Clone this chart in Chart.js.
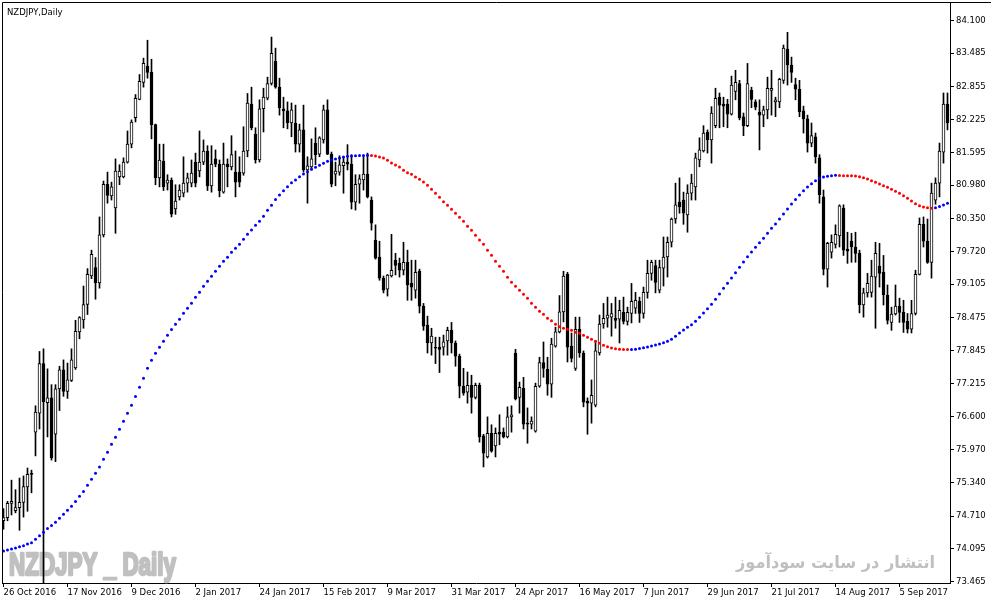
<!DOCTYPE html>
<html>
<head>
<meta charset="utf-8">
<script src="https://cdn.jsdelivr.net/npm/chart.js@4.4.1/dist/chart.umd.min.js"></script>
<style>
html, body { margin: 0; padding: 0; background: #fff; }
#box { width: 991px; height: 605px; }
</style>
</head>
<body>
<div id="box"><canvas id="chart" width="991" height="605"></canvas></div>
<script>
// NZDJPY daily, 26 Oct 2016 .. 21 Sep 2017 (bar 0 .. bar 236)
let open = [
 74.62,74.68,74.95,74.81,74.87,74.97,75.26,75.52,76.30,76.66,
 77.60,76.86,76.95,76.26,77.12,77.48,77.07,77.28,77.52,78.20,
 78.43,78.72,79.26,79.42,79.13,80.04,81.00,80.78,80.55,81.14,
 81.14,81.42,81.76,82.26,82.61,82.93,83.24,83.12,82.13,81.12,
 81.44,81.02,81.08,80.53,80.76,80.83,81.02,81.02,81.42,81.25,
 81.42,81.63,80.97,81.48,81.38,80.85,81.38,81.33,81.23,81.23,
 81.21,81.63,82.52,81.95,81.46,82.43,82.63,82.91,83.33,82.84,
 82.43,82.39,82.16,82.16,81.76,82.03,81.27,81.33,81.78,81.57,
 81.84,82.41,81.57,81.19,81.23,81.35,81.42,81.38,80.66,81.00,
 81.08,81.19,80.70,79.94,79.62,79.22,79.01,79.26,79.56,79.50,
 79.37,79.52,79.12,78.99,79.35,78.69,78.33,77.99,77.91,77.91,
 77.91,78.03,78.23,77.99,77.74,77.17,77.06,77.19,76.96,77.19,
 76.23,75.83,76.28,76.04,76.30,76.30,76.21,76.59,77.80,76.96,
 77.13,76.47,76.45,76.32,77.17,77.62,77.49,77.21,77.93,78.20,
 78.58,79.29,77.93,77.51,78.25,77.80,76.89,76.85,76.81,77.80,
 78.35,78.46,78.48,78.46,78.44,78.57,78.40,78.55,78.65,78.78,
 78.55,78.95,79.31,79.46,78.99,79.41,79.62,79.90,80.34,80.66,
 80.70,80.42,80.83,80.95,81.46,81.63,81.99,81.84,82.11,82.65,
 82.52,82.52,82.33,82.76,82.91,82.28,82.11,82.78,82.56,82.37,
 82.31,82.41,82.78,82.56,82.56,82.97,83.56,83.26,82.89,82.80,
 82.39,82.24,81.78,81.90,81.50,80.76,79.39,79.71,79.86,80.02,
 80.55,79.77,79.92,79.81,79.69,78.71,78.94,78.95,79.24,79.45,
 79.33,78.90,78.38,78.54,78.69,78.57,78.40,78.25,78.55,79.29,
 80.24,79.92,79.52,80.70,81.02,81.61,82.52
];
let high = [
 74.85,74.99,75.39,75.21,75.43,75.47,75.62,75.58,76.80,77.83,
 77.88,77.50,77.20,77.20,77.55,77.67,77.61,77.88,78.42,78.49,
 79.07,79.40,79.75,79.61,80.38,81.06,81.23,81.04,81.48,81.37,
 81.50,82.01,82.22,82.70,83.08,83.39,83.73,83.37,82.14,81.76,
 81.76,81.18,81.12,80.99,80.99,81.52,81.21,81.46,81.59,82.01,
 81.84,81.73,81.73,81.65,81.46,81.78,81.48,81.92,81.63,81.52,
 82.09,82.72,82.84,82.07,82.60,82.82,83.03,83.79,83.58,83.01,
 82.65,82.56,82.54,82.50,82.14,82.50,81.52,81.86,82.07,81.90,
 82.50,82.60,81.61,81.42,81.54,81.52,81.75,81.56,81.18,81.18,
 81.54,81.59,80.76,80.23,79.92,79.26,79.29,80.05,79.69,79.60,
 79.90,79.75,79.56,79.56,79.39,78.74,78.50,78.27,78.10,78.10,
 78.14,78.29,78.38,78.03,77.78,77.51,77.44,77.38,77.23,77.23,
 76.26,76.59,76.44,76.38,76.63,76.38,76.78,76.80,77.87,77.25,
 77.34,76.76,76.59,77.23,77.72,78.01,77.72,78.08,78.29,78.89,
 79.35,79.33,78.18,78.48,78.48,77.84,76.95,77.29,78.04,78.52,
 78.74,78.86,78.74,78.86,78.80,78.86,78.67,79.12,78.95,78.86,
 79.05,79.56,79.56,79.56,79.56,80.00,80.00,80.36,81.02,81.12,
 80.85,80.99,81.19,81.59,81.88,82.11,82.03,82.47,82.82,82.73,
 82.65,82.61,83.05,83.16,82.97,82.35,83.29,82.84,82.60,82.60,
 82.48,83.03,83.16,82.65,83.01,83.64,83.88,83.41,83.01,82.97,
 82.48,82.31,82.16,81.97,81.56,80.89,79.90,80.04,80.23,80.61,
 80.61,80.09,80.07,80.09,79.75,79.03,79.31,79.56,79.90,79.88,
 79.65,79.09,78.67,79.09,78.84,78.80,78.55,78.80,79.37,80.36,
 80.38,80.34,81.02,81.12,81.78,82.73,82.73
];
let low = [
 74.46,74.62,74.73,74.77,74.44,74.69,74.80,75.15,75.85,76.36,
 73.20,76.21,75.77,75.74,76.71,76.98,76.94,77.26,77.49,78.07,
 78.27,78.53,79.21,78.82,79.03,80.00,80.64,80.70,80.07,80.99,
 81.12,81.40,81.69,82.18,82.60,82.84,83.01,81.86,80.99,80.95,
 80.88,80.89,80.38,80.43,80.70,80.76,80.85,80.95,80.95,81.14,
 81.37,80.88,80.85,81.33,80.76,80.83,80.95,81.27,80.76,80.95,
 81.17,81.52,82.03,81.40,81.42,81.99,82.60,82.88,82.82,82.31,
 82.07,82.05,81.90,81.61,81.61,81.23,80.64,81.27,81.37,81.52,
 81.78,81.56,80.95,80.97,81.17,80.83,81.27,80.53,80.51,80.64,
 80.89,80.74,80.13,79.58,79.18,78.94,78.88,79.24,79.28,79.24,
 79.28,78.80,78.80,78.84,78.56,78.23,77.80,77.76,77.60,77.43,
 77.76,77.76,77.80,77.55,76.95,77.00,76.85,76.66,76.93,76.11,
 75.64,75.81,75.92,75.83,76.06,76.19,76.19,76.30,76.91,76.66,
 76.36,76.09,76.36,76.30,77.15,77.34,77.00,76.96,77.91,78.18,
 78.39,77.63,77.63,77.47,77.72,76.78,76.26,76.47,76.78,77.76,
 78.27,78.29,78.12,78.27,77.99,78.35,78.33,78.37,78.55,78.38,
 78.46,78.84,79.18,78.94,78.94,79.07,79.24,79.81,80.26,80.45,
 80.24,80.09,80.70,80.70,81.33,81.61,81.59,81.40,82.07,82.07,
 82.09,82.07,82.31,82.60,82.22,81.92,82.09,82.45,82.41,81.65,
 82.09,82.24,82.31,82.28,82.45,82.91,82.88,82.93,82.60,82.28,
 81.97,81.61,81.71,81.40,80.64,79.28,79.05,79.60,79.79,79.81,
 79.65,79.50,79.52,79.52,78.56,78.48,78.86,78.86,78.27,79.05,
 78.71,78.35,78.23,78.52,78.38,78.19,78.18,78.18,78.52,79.28,
 79.81,79.50,79.22,80.62,80.76,81.40,82.03
];
let close = [
 74.68,74.95,74.99,74.87,74.97,75.27,75.50,75.50,76.68,77.60,
 76.88,76.95,75.81,77.12,77.48,77.07,77.29,77.67,78.21,78.47,
 78.72,79.29,79.67,79.13,80.04,81.00,80.79,80.95,81.25,81.25,
 81.42,81.76,82.18,82.63,82.95,83.29,83.12,82.13,81.12,81.46,
 80.95,81.08,80.43,80.68,80.89,81.02,81.12,81.21,81.02,81.42,
 81.63,80.97,81.38,81.38,80.88,81.38,81.33,81.56,81.04,81.04,
 81.63,82.54,82.07,81.46,82.43,82.65,82.91,83.48,82.84,82.45,
 82.39,82.16,82.41,81.76,82.03,81.27,81.35,81.48,81.56,81.88,
 82.41,81.57,81.00,81.25,81.37,81.42,81.38,80.66,81.00,81.10,
 81.19,80.76,80.26,79.60,79.22,78.99,79.28,79.37,79.46,79.37,
 79.52,79.09,79.05,79.33,78.69,78.31,77.99,78.12,77.89,77.87,
 78.01,78.23,77.99,77.74,77.17,77.04,77.19,76.96,77.19,76.21,
 75.90,76.28,75.94,76.28,76.26,76.21,76.59,76.63,76.93,77.15,
 76.45,76.45,76.51,77.17,77.62,77.51,77.21,77.97,78.20,78.58,
 79.26,77.91,77.70,78.25,77.80,76.87,76.85,77.00,77.84,78.35,
 78.46,78.52,78.55,78.42,78.61,78.40,78.57,78.78,78.80,78.55,
 78.95,79.31,79.52,79.14,79.42,79.62,79.90,80.34,80.61,80.57,
 80.45,80.83,81.02,81.50,81.65,81.97,81.84,82.35,82.63,82.50,
 82.48,82.33,82.88,82.93,82.26,82.11,82.91,82.61,82.46,82.31,
 82.41,82.82,82.82,82.60,82.99,83.58,83.26,83.12,82.80,82.37,
 82.24,81.78,81.92,81.52,80.80,79.39,79.88,79.90,80.05,80.59,
 79.75,79.73,79.81,79.69,78.71,78.94,79.12,79.26,79.69,79.31,
 78.90,78.42,78.54,78.69,78.57,78.38,78.25,78.55,79.29,80.24,
 79.92,79.52,80.83,81.02,81.63,82.52,82.16
];
// dotted moving average, one value per bar
let maLine = [
 74.047,74.066,74.085,74.104,74.128,74.147,74.180,74.204,74.269,74.335,
 74.401,74.474,74.530,74.593,74.667,74.745,74.821,74.896,74.986,75.084,
 75.175,75.292,75.406,75.520,75.640,75.786,75.918,76.070,76.202,76.354,
 76.506,76.657,76.809,76.976,77.150,77.321,77.511,77.662,77.795,77.909,
 78.022,78.136,78.246,78.345,78.439,78.553,78.648,78.742,78.856,78.951,
 79.065,79.160,79.254,79.349,79.444,79.539,79.615,79.709,79.785,79.861,
 79.956,80.051,80.132,80.221,80.297,80.392,80.506,80.600,80.710,80.796,
 80.877,80.953,81.029,81.080,81.143,81.194,81.238,81.283,81.321,81.359,
 81.397,81.435,81.459,81.478,81.497,81.516,81.529,81.535,81.539,81.543,
 81.546,81.548,81.544,81.535,81.516,81.497,81.454,81.402,81.364,81.326,
 81.264,81.218,81.188,81.137,81.093,81.042,80.980,80.904,80.828,80.752,
 80.669,80.600,80.525,80.449,80.373,80.297,80.202,80.127,80.032,79.943,
 79.861,79.747,79.653,79.539,79.444,79.349,79.236,79.141,79.065,78.989,
 78.913,78.838,78.742,78.667,78.591,78.534,78.458,78.413,78.345,78.299,
 78.268,78.249,78.230,78.193,78.174,78.136,78.098,78.060,78.022,77.984,
 77.946,77.918,77.895,77.880,77.872,77.868,77.866,77.868,77.874,77.884,
 77.899,77.916,77.935,77.954,77.973,77.996,78.022,78.060,78.117,78.180,
 78.236,78.288,78.337,78.401,78.477,78.559,78.640,78.724,78.818,78.919,
 79.027,79.122,79.222,79.323,79.425,79.525,79.626,79.715,79.804,79.892,
 79.975,80.070,80.164,80.246,80.341,80.436,80.530,80.625,80.710,80.796,
 80.877,80.947,81.010,81.067,81.112,81.137,81.152,81.161,81.169,81.165,
 81.163,81.161,81.159,81.156,81.143,81.124,81.099,81.067,81.036,81.004,
 80.972,80.942,80.904,80.866,80.828,80.782,80.733,80.682,80.631,80.593,
 80.568,80.553,80.544,80.555,80.578,80.606,80.638
];

let xTickBars = [0,16,32,48,64,80,96,112,128,144,160,176,192,208,224];
let xTickText = ['26 Oct 2016','17 Nov 2016','9 Dec 2016','2 Jan 2017','24 Jan 2017','15 Feb 2017','9 Mar 2017','31 Mar 2017','24 Apr 2017','16 May 2017','7 Jun 2017','29 Jun 2017','21 Jul 2017','14 Aug 2017','5 Sep 2017'];
let yTicks = [84.100,83.485,82.855,82.225,81.595,80.980,80.350,79.720,79.105,78.475,77.845,77.215,76.600,75.970,75.340,74.710,74.095,73.465];

let bodies = open.map((o, i) => ({x: i, y: [o, close[i]]}));
let wicks = open.map((o, i) => ({x: i, y: [low[i], high[i]]}));
let bodyColors = open.map((o, i) => close[i] >= o ? '#ffffff' : '#000000');
let maPoints = maLine.map((v, i) => ({x: i, y: v}));
let maColors = maLine.map((v, i) => (i > 0 && v < maLine[i - 1]) ? '#ff0000' : '#0000ff');

let tickFont = {family: '"DejaVu Sans", Verdana, sans-serif', size: 8.5};

let decor = {
  id: 'decor',
  beforeDatasetsDraw(chart) {
    let c = chart.ctx;
    c.save();
    c.fillStyle = '#c0c0c0';
    c.strokeStyle = '#c0c0c0';
    c.lineJoin = 'round';
    c.font = 'bold 32px "Liberation Sans", Arial, sans-serif';
    let t = 'NZDJPY _ Daily';
    let w = c.measureText(t).width;
    c.translate(9, 575);
    c.scale(167 / w, 1);
    c.lineWidth = 2.6;
    c.fillText(t, 0, 0);
    c.strokeText(t, 0, 0);
    c.restore();

    c.save();
    c.fillStyle = '#c0c0c0';
    c.font = 'bold 17px "DejaVu Sans", sans-serif';
    c.direction = 'rtl';
    c.textAlign = 'right';
    t = 'انتشار در سایت سودآموز';
    w = c.measureText(t).width;
    c.translate(935, 568);
    c.scale(199 / w, 1);
    c.fillText(t, 0, 0);
    c.restore();
  },
  afterDraw(chart) {
    let c = chart.ctx, a = chart.chartArea;
    c.save();
    c.strokeStyle = '#000';
    c.lineWidth = 1;
    c.beginPath();
    c.moveTo(a.left + 0.5, a.bottom);
    c.lineTo(a.left + 0.5, a.top + 0.5);
    c.lineTo(chart.width, a.top + 0.5);
    c.stroke();
    c.fillStyle = '#000';
    c.font = '8.5px "DejaVu Sans", Verdana, sans-serif';
    c.fillText('NZDJPY,Daily', 7, 15);
    c.restore();
  }
};

new Chart(document.getElementById('chart'), {
  type: 'bar',
  data: {
    datasets: [
      {
        type: 'line',
        data: maPoints,
        showLine: false,
        pointRadius: 1.5,
        pointHoverRadius: 1.5,
        pointBorderWidth: 0,
        pointBackgroundColor: maColors,
        order: 0
      },
      {
        type: 'bar',
        data: bodies,
        backgroundColor: bodyColors,
        borderColor: '#000000',
        borderWidth: 1,
        borderSkipped: false,
        barThickness: 3,
        grouped: false,
        order: 1
      },
      {
        type: 'bar',
        data: wicks,
        backgroundColor: '#000000',
        borderWidth: 0,
        barThickness: 1,
        grouped: false,
        order: 2
      }
    ]
  },
  options: {
    responsive: false,
    animation: false,
    devicePixelRatio: 1,
    events: [],
    layout: {padding: {left: 2, top: 2, right: 0, bottom: 0}},
    plugins: {legend: {display: false}, tooltip: {enabled: false}},
    scales: {
      x: {
        type: 'linear',
        min: -0.375,
        max: 236.625,
        offset: false,
        grid: {offset: false, drawOnChartArea: false, drawTicks: true, tickLength: 4, color: '#000'},
        border: {display: true, color: '#000'},
        ticks: {
          align: 'start',
          padding: 1,
          autoSkip: false,
          maxRotation: 0,
          color: '#000',
          font: tickFont,
          callback: v => {
            let k = xTickBars.indexOf(v);
            return k < 0 ? '' : xTickText[k];
          }
        },
        afterBuildTicks: s => { s.ticks = xTickBars.map(v => ({value: v})); },
        afterFit: s => { s.height = 22; s.paddingLeft = 0; s.paddingRight = 0; }
      },
      y: {
        position: 'right',
        min: 73.4404,
        max: 84.4545,
        beginAtZero: false,
        grid: {drawOnChartArea: false, drawTicks: true, tickLength: 4, color: '#000'},
        border: {display: true, color: '#000'},
        ticks: {
          padding: 2,
          color: '#000',
          font: tickFont,
          callback: v => Number(v).toFixed(3)
        },
        afterBuildTicks: s => { s.ticks = yTicks.map(v => ({value: v})); },
        afterFit: s => { s.width = 41; s.paddingTop = 0; s.paddingBottom = 0; }
      }
    }
  },
  plugins: [decor]
});
</script>
</body>
</html>
